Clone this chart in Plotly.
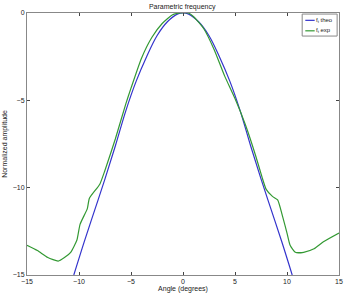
import plotly.graph_objects as go

theo_x = [-10.5, -9.5, -8.5, -7.5, -6.5, -5.5, -4.5, -3.5, -2.5, -1.5, -0.5, 0,
          0.5, 1.5, 2.5, 3.5, 4.5, 5.5, 6.5, 7.5, 8.5, 9.5, 10.5]
theo_y = [-15, -13.1, -11.3, -9.5, -7.6, -5.6, -3.9, -2.5, -1.3, -0.5, -0.05, 0,
          -0.05, -0.5, -1.3, -2.5, -3.9, -5.6, -7.6, -9.5, -11.3, -13.1, -15]

exp_x = [-15, -14, -13, -12, -11.4, -10.8, -10.2, -9.9, -9.2, -9.0, -8.0, -7.5, -6.5,
         -5.5, -5.0, -4.0, -3.0, -2.0, -1.0, -0.3, 0.5, 1, 2, 3, 4, 5, 6, 7, 7.6, 8.0,
         8.6, 9.1, 9.6, 10.0, 10.3, 10.8, 11.6, 12.6, 13.5, 15]
exp_y = [-13.3, -13.6, -14.0, -14.2, -14.0, -13.7, -13.0, -12.1, -11.2, -10.6, -9.8, -9.0, -7.2,
         -5.2, -4.3, -2.6, -1.4, -0.6, -0.1, 0, 0, -0.2, -0.9, -2.1, -3.6, -4.9, -6.4, -8.2, -9.4, -10.1,
         -10.5, -10.7, -11.7, -12.6, -13.3, -13.7, -13.7, -13.5, -13.1, -12.6]

x_ticks = [-15, -10, -5, 0, 5, 10, 15]
y_ticks = [-15, -10, -5, 0]

series_names = ["f<sub>t</sub> theo", "f<sub>t</sub> exp"]
series_colors = ["#3333cc", "#339933"]

fig = go.Figure()
fig.add_trace(go.Scatter(x=theo_x, y=theo_y, mode="lines", name=series_names[0],
                         line=dict(color=series_colors[0], width=1.2, shape="spline")))
fig.add_trace(go.Scatter(x=exp_x, y=exp_y, mode="lines", name=series_names[1],
                         line=dict(color=series_colors[1], width=1.2, shape="spline", smoothing=0.5)))

# compact MATLAB-style legend drawn manually in paper coordinates
fig.add_shape(type="rect", xref="paper", yref="paper", x0=0.882, x1=0.994, y0=0.912, y1=0.996,
              line=dict(color="#888", width=1), fillcolor="white", layer="above")
for i, (nm, col) in enumerate(zip(series_names, series_colors)):
    yy = 0.972 - i * 0.040
    fig.add_shape(type="line", xref="paper", yref="paper", x0=0.892, x1=0.922, y0=yy, y1=yy,
                  line=dict(color=col, width=1.2), layer="above")
    fig.add_annotation(xref="paper", yref="paper", x=0.924, y=yy, text=nm, showarrow=False,
                       xanchor="left", yanchor="middle", xshift=-1, font=dict(size=6))

font = dict(family="Liberation Sans, Arial, sans-serif", size=7, color="#222")
fig.update_layout(
    width=347, height=294,
    margin=dict(l=20, r=4, t=13, b=14),
    paper_bgcolor="white", plot_bgcolor="white",
    font=font,
    title=dict(text="Parametric frequency", x=0.525, xanchor="center", y=0.985, yanchor="top",
               font=dict(size=7)),
    showlegend=False,
    xaxis=dict(range=[-15, 15], tickvals=x_ticks, ticks="inside", ticklen=3,
               showline=True, mirror="allticks", linecolor="#888", linewidth=1,
               showgrid=False, zeroline=False,
               title=dict(text="Angle (degrees)", standoff=0, font=dict(size=7))),
    yaxis=dict(range=[-15, 0], tickvals=y_ticks, ticks="inside", ticklen=3,
               showline=True, mirror="allticks", linecolor="#888", linewidth=1,
               showgrid=False, zeroline=False,
               title=dict(text="Normalized amplitude", standoff=4, font=dict(size=7))),
)
fig.write_html("out.html")
